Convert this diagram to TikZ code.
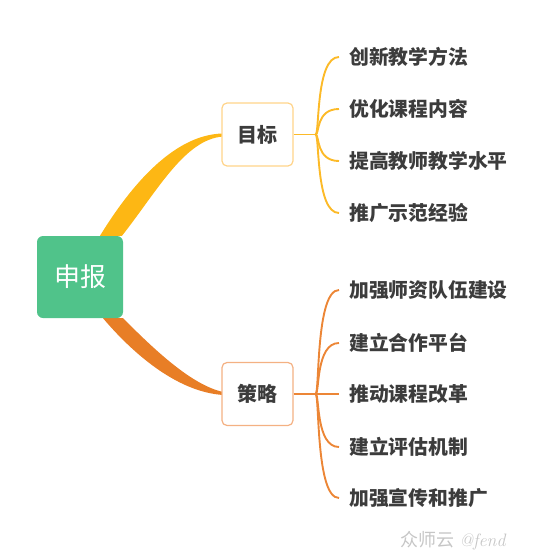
\documentclass[tikz,border=0pt]{standalone}
\usepackage{fontspec}
\newfontfamily\cjk{Noto Sans CJK SC}
\usetikzlibrary{positioning,calc,backgrounds}
\definecolor{rootgreen}{RGB}{80,195,138}
\definecolor{goalyellow}{RGB}{253,183,20}
\definecolor{goalline}{RGB}{252,186,40}
\definecolor{goalrim}{RGB}{255,212,138}
\definecolor{planorange}{RGB}{232,126,38}
\definecolor{planline}{RGB}{236,134,54}
\definecolor{planrim}{RGB}{244,177,131}
\definecolor{textgray}{RGB}{60,60,60}

\begin{document}
\begin{tikzpicture}[x=1pt,y=-1pt,
    rootbox/.style={fill=rootgreen,rounded corners=6pt,minimum width=86pt,minimum height=82pt,text=white,font=\cjk\fontsize{26}{26}\selectfont},
    topic/.style={draw,line width=1.2pt,rounded corners=5pt,fill=white,minimum width=71pt,minimum height=63pt,text=textgray,font=\cjk\bfseries\fontsize{20}{20}\selectfont},
    leaf/.style={anchor=west,inner xsep=10pt,inner ysep=2pt,text=textgray,font=\cjk\bfseries\fontsize{19.8}{20}\selectfont},
    twig/.style={line width=1.9pt}
]
\useasboundingbox (0,0) rectangle (558,557);

\node[rootbox] (root) at (80,277) {申报};
\node[topic,draw=goalrim] (goal) at (257.5,134.5) {目标};
\node[topic,draw=planrim] (plan) at (257.5,394) {策略};

% goal leaves
\node[leaf] (g1) at (339,57) {创新教学方法};
\node[leaf] (g2) at (339,109) {优化课程内容};
\node[leaf] (g3) at (339,161) {提高教师教学水平};
\node[leaf] (g4) at (339,213) {推广示范经验};

% plan leaves
\node[leaf] (p1) at (339,290) {加强师资队伍建设};
\node[leaf] (p2) at (339,343) {建立合作平台};
\node[leaf] (p3) at (339,394) {推动课程改革};
\node[leaf] (p4) at (339,447) {建立评估机制};
\node[leaf] (p5) at (339,498) {加强宣传和推广};

\begin{scope}[on background layer]
% thick tapered branches
\fill[goalyellow] ($(root.north)+(20,0)$) .. controls (125,195) and (170,134) .. ($(goal.west)+(2,-1)$)
    -- ($(goal.west)+(2,2)$) .. controls (185,139) and (158,190) .. ($(root.north)+(42,0)$) -- cycle;
\fill[planorange] ($(root.south)+(23,0)$) .. controls (130,350) and (175,392) .. ($(plan.west)+(2,1)$)
    -- ($(plan.west)+(2,-2)$) .. controls (190,385) and (150,345) .. ($(root.south)+(43,0)$) -- cycle;
\end{scope}

% thin connectors
\coordinate (gj) at ($(goal.east)+(22,0)$);
\coordinate (pj) at ($(plan.east)+(22,0)$);
\draw[twig,goalline] (goal.east) -- (gj);
\draw[twig,planline] (plan.east) -- (pj);
\foreach \i in {1,...,4}
  \draw[twig,goalline] (gj) .. controls ($(gj)+(4,0)$) and ($(gj |- g\i.west)+(0,0)$) .. (g\i.west);
\foreach \i in {1,...,5}
  \draw[twig,planline] (pj) .. controls ($(pj)+(4,0)$) and ($(pj |- p\i.west)+(0,0)$) .. (p\i.west);

\node[anchor=west,inner sep=0,text=gray!45,font=\fontsize{18}{18}\selectfont] (mark) at (400,541) {{\cjk 众师云} \itshape @fend};
\end{tikzpicture}
\end{document}
